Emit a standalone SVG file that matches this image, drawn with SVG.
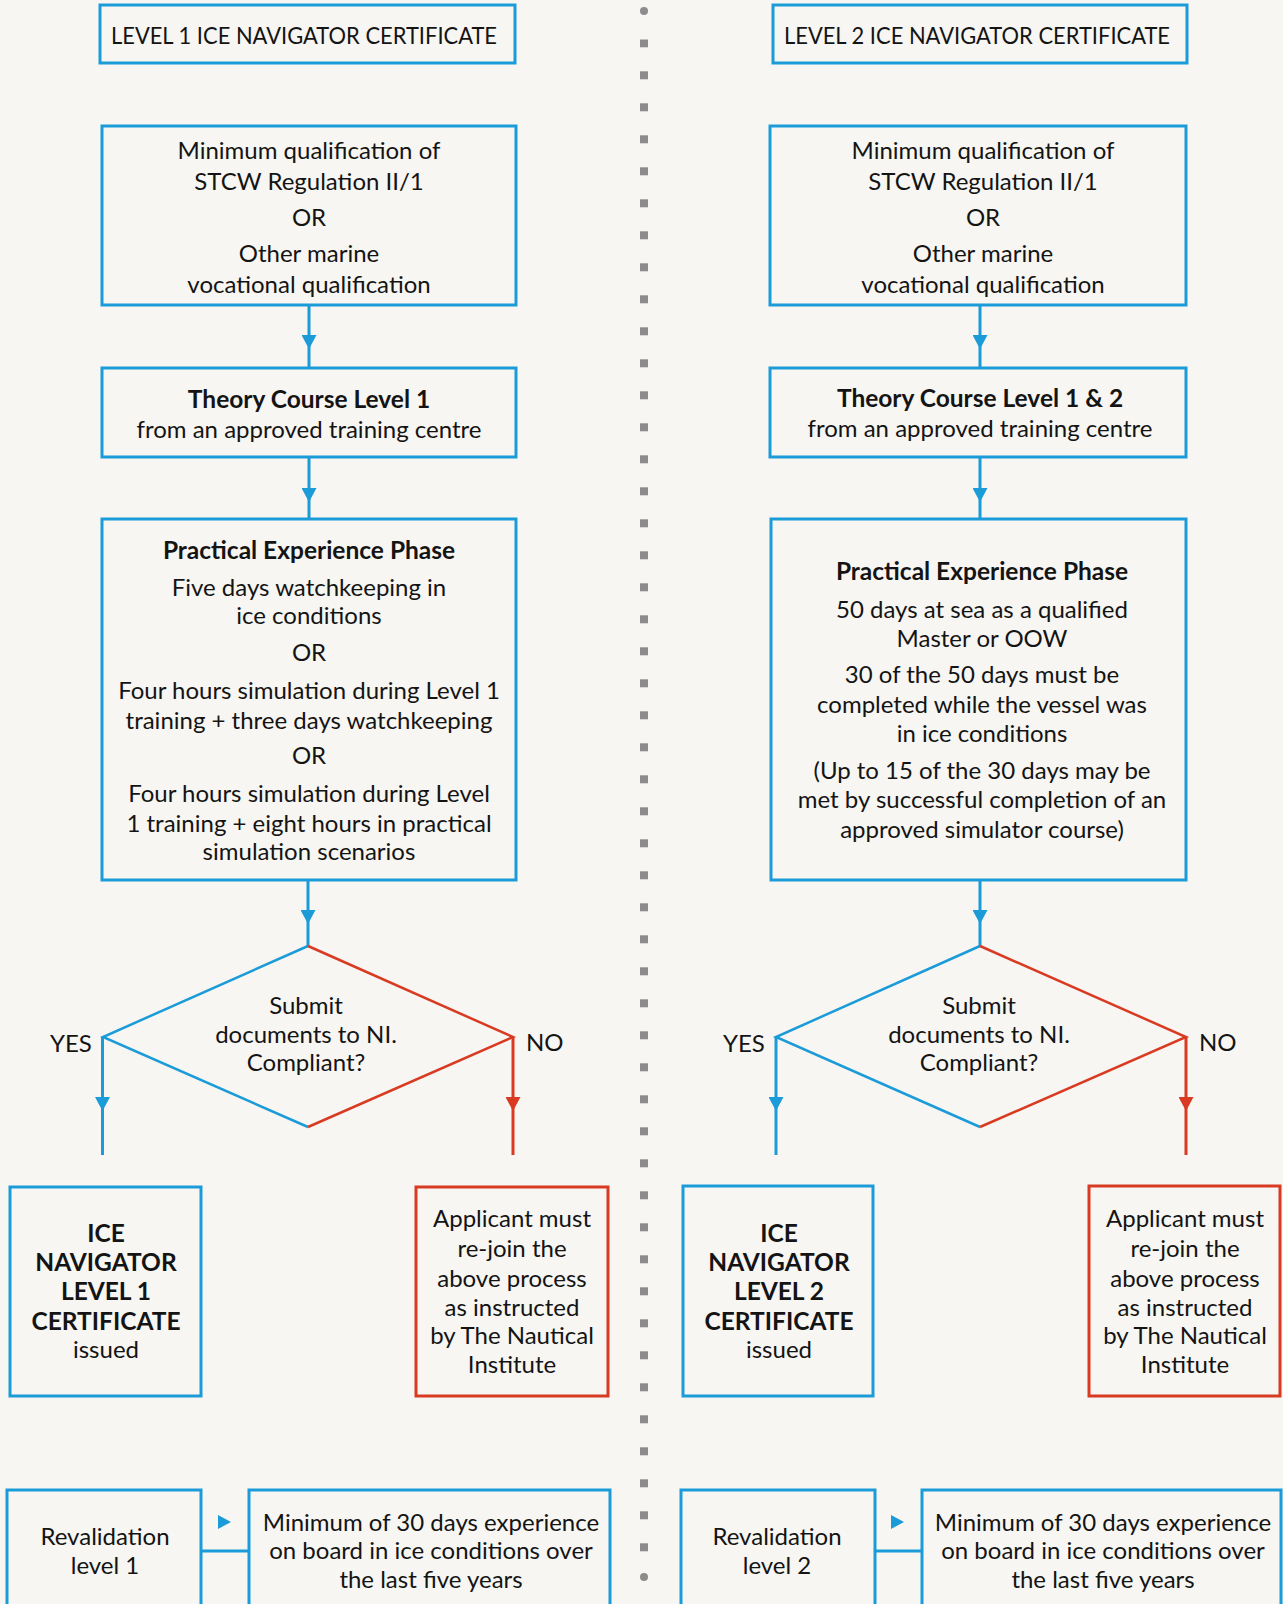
<svg xmlns="http://www.w3.org/2000/svg" width="1283" height="1604" viewBox="0 0 1283 1604">
<style>
.bx{fill:none;stroke:#1b9bd8;stroke-width:3}
.rbx{fill:none;stroke:#d93b22;stroke-width:3}
.t{font-family:Lato,"Liberation Sans",sans-serif;font-size:24px;fill:#141414;text-anchor:middle}
.b{font-family:Lato,"Liberation Sans",sans-serif;font-size:24.5px;font-weight:bold;fill:#141414;text-anchor:middle}
.h{font-family:Lato,"Liberation Sans",sans-serif;font-size:24px;fill:#141414}
.cb{fill:none;stroke:#1b9bd8;stroke-width:3}
.cr{fill:none;stroke:#d93b22;stroke-width:3}
.db{fill:none;stroke:#1b9bd8;stroke-width:2.5}
.dr{fill:none;stroke:#d93b22;stroke-width:2.5}
</style>
<defs>
<marker id="ab" markerUnits="userSpaceOnUse" markerWidth="15" markerHeight="15" refX="14" refY="7.5" orient="auto"><path d="M0,0 L14,7.5 L0,15 Z" fill="#1b9bd8"/></marker>
<marker id="ar" markerUnits="userSpaceOnUse" markerWidth="15" markerHeight="15" refX="14" refY="7.5" orient="auto"><path d="M0,0 L14,7.5 L0,15 Z" fill="#d93b22"/></marker>
<pattern id="dots" x="640" y="39.3" width="8" height="32" patternUnits="userSpaceOnUse"><rect x="0" y="0" width="8" height="8" fill="#8c8c8c"/></pattern>
</defs>
<rect x="0" y="0" width="1283" height="1604" fill="#f7f6f2"/>

<g id="divider">
<circle cx="644" cy="11" r="4" fill="#8c8c8c"/>
<rect x="640" y="39.3" width="8" height="1516" fill="url(#dots)"/>
<circle cx="644" cy="1577" r="4" fill="#8c8c8c"/>
</g>

<g id="connectors">
<path class="cb" d="M309,305 L309,349 L309,368" marker-mid="url(#ab)"/>
<path class="cb" d="M309,457 L309,502 L309,519" marker-mid="url(#ab)"/>
<path class="cb" d="M308,880 L308,924 L308,946" marker-mid="url(#ab)"/>
<path class="cb" d="M102.5,1037 L102.5,1111 L102.5,1155" marker-mid="url(#ab)"/>
<path class="cr" d="M513,1037 L513,1111 L513,1155" marker-mid="url(#ar)"/>
<path class="cb" d="M201,1551 L249,1551"/>
<polygon points="218,1515 218,1529 231,1522" fill="#1b9bd8"/>

<path class="cb" d="M980,305 L980,349 L980,368" marker-mid="url(#ab)"/>
<path class="cb" d="M980,457 L980,502 L980,519" marker-mid="url(#ab)"/>
<path class="cb" d="M980,880 L980,924 L980,946" marker-mid="url(#ab)"/>
<path class="cb" d="M776,1037 L776,1111 L776,1155" marker-mid="url(#ab)"/>
<path class="cr" d="M1186,1037 L1186,1111 L1186,1155" marker-mid="url(#ar)"/>
<path class="cb" d="M875,1551 L922,1551"/>
<polygon points="891,1515 891,1529 904,1522" fill="#1b9bd8"/>
</g>

<!-- LEFT COLUMN -->
<g id="l-title">
<rect class="bx" x="100" y="5" width="415" height="58"/>
<text class="h" x="111" y="44" textLength="386" lengthAdjust="spacingAndGlyphs">LEVEL 1 ICE NAVIGATOR CERTIFICATE</text>
</g>
<g id="l-minqual">
<rect class="bx" x="102" y="126" width="414" height="179"/>
<text class="t" x="309" y="159">Minimum qualification of</text>
<text class="t" x="309" y="190">STCW Regulation II/1</text>
<text class="t" x="309" y="226">OR</text>
<text class="t" x="309" y="262">Other marine</text>
<text class="t" x="309" y="293">vocational qualification</text>
</g>
<g id="l-theory">
<rect class="bx" x="102" y="368" width="414" height="89"/>
<text class="b" x="309" y="408">Theory Course Level 1</text>
<text class="t" x="309" y="438">from an approved training centre</text>
</g>
<g id="l-practical">
<rect class="bx" x="102" y="519" width="414" height="361"/>
<text class="b" x="309" y="559">Practical Experience Phase</text>
<text class="t" x="309" y="596">Five days watchkeeping in</text>
<text class="t" x="309" y="624">ice conditions</text>
<text class="t" x="309" y="661">OR</text>
<text class="t" x="309" y="699">Four hours simulation during Level 1</text>
<text class="t" x="309" y="729">training + three days watchkeeping</text>
<text class="t" x="309" y="764">OR</text>
<text class="t" x="309" y="802">Four hours simulation during Level</text>
<text class="t" x="309" y="832">1 training + eight hours in practical</text>
<text class="t" x="309" y="860">simulation scenarios</text>
</g>
<g id="l-decision">
<polyline class="db" points="308,946 103,1037 308,1127"/>
<polyline class="dr" points="308,946 513,1037 308,1127"/>
<text class="t" x="306" y="1014">Submit</text>
<text class="t" x="306" y="1043">documents to NI.</text>
<text class="t" x="306" y="1071">Compliant?</text>
<text class="h" x="50" y="1052">YES</text>
<text class="h" x="526" y="1051">NO</text>
</g>
<g id="l-issued">
<rect class="bx" x="10" y="1187" width="191" height="209"/>
<text class="b" x="106" y="1242">ICE</text>
<text class="b" x="106" y="1271">NAVIGATOR</text>
<text class="b" x="106" y="1300">LEVEL 1</text>
<text class="b" x="106" y="1330">CERTIFICATE</text>
<text class="t" x="106" y="1358">issued</text>
</g>
<g id="l-rejoin">
<rect class="rbx" x="416" y="1187" width="192" height="209"/>
<text class="t" x="512" y="1227">Applicant must</text>
<text class="t" x="512" y="1257">re-join the</text>
<text class="t" x="512" y="1287">above process</text>
<text class="t" x="512" y="1316">as instructed</text>
<text class="t" x="512" y="1344">by The Nautical</text>
<text class="t" x="512" y="1373">Institute</text>
</g>
<g id="l-reval">
<rect class="bx" x="7" y="1490" width="194" height="130"/>
<text class="t" x="105" y="1545">Revalidation</text>
<text class="t" x="105" y="1574">level 1</text>
</g>
<g id="l-reval-req">
<rect class="bx" x="249" y="1490" width="361" height="130"/>
<text class="t" x="431" y="1531">Minimum of 30 days experience</text>
<text class="t" x="431" y="1559">on board in ice conditions over</text>
<text class="t" x="431" y="1588">the last five years</text>
</g>

<!-- RIGHT COLUMN -->
<g id="r-title">
<rect class="bx" x="773" y="5" width="414" height="58"/>
<text class="h" x="784" y="44" textLength="386" lengthAdjust="spacingAndGlyphs">LEVEL 2 ICE NAVIGATOR CERTIFICATE</text>
</g>
<g id="r-minqual">
<rect class="bx" x="770" y="126" width="416" height="179"/>
<text class="t" x="983" y="159">Minimum qualification of</text>
<text class="t" x="983" y="190">STCW Regulation II/1</text>
<text class="t" x="983" y="226">OR</text>
<text class="t" x="983" y="262">Other marine</text>
<text class="t" x="983" y="293">vocational qualification</text>
</g>
<g id="r-theory">
<rect class="bx" x="770" y="368" width="416" height="89"/>
<text class="b" x="980" y="407">Theory Course Level 1 &amp; 2</text>
<text class="t" x="980" y="437">from an approved training centre</text>
</g>
<g id="r-practical">
<rect class="bx" x="771" y="519" width="415" height="361"/>
<text class="b" x="982" y="580">Practical Experience Phase</text>
<text class="t" x="982" y="618">50 days at sea as a qualified</text>
<text class="t" x="982" y="647">Master or OOW</text>
<text class="t" x="982" y="683">30 of the 50 days must be</text>
<text class="t" x="982" y="713">completed while the vessel was</text>
<text class="t" x="982" y="742">in ice conditions</text>
<text class="t" x="982" y="779">(Up to 15 of the 30 days may be</text>
<text class="t" x="982" y="808">met by successful completion of an</text>
<text class="t" x="982" y="838">approved simulator course)</text>
</g>
<g id="r-decision">
<polyline class="db" points="980,946 776,1037 980,1127"/>
<polyline class="dr" points="980,946 1186,1037 980,1127"/>
<text class="t" x="979" y="1014">Submit</text>
<text class="t" x="979" y="1043">documents to NI.</text>
<text class="t" x="979" y="1071">Compliant?</text>
<text class="h" x="723" y="1052">YES</text>
<text class="h" x="1199" y="1051">NO</text>
</g>
<g id="r-issued">
<rect class="bx" x="683" y="1186" width="190" height="210"/>
<text class="b" x="779" y="1242">ICE</text>
<text class="b" x="779" y="1271">NAVIGATOR</text>
<text class="b" x="779" y="1300">LEVEL 2</text>
<text class="b" x="779" y="1330">CERTIFICATE</text>
<text class="t" x="779" y="1358">issued</text>
</g>
<g id="r-rejoin">
<rect class="rbx" x="1089" y="1186" width="191" height="210"/>
<text class="t" x="1185" y="1227">Applicant must</text>
<text class="t" x="1185" y="1257">re-join the</text>
<text class="t" x="1185" y="1287">above process</text>
<text class="t" x="1185" y="1316">as instructed</text>
<text class="t" x="1185" y="1344">by The Nautical</text>
<text class="t" x="1185" y="1373">Institute</text>
</g>
<g id="r-reval">
<rect class="bx" x="681" y="1490" width="194" height="130"/>
<text class="t" x="777" y="1545">Revalidation</text>
<text class="t" x="777" y="1574">level 2</text>
</g>
<g id="r-reval-req">
<rect class="bx" x="922" y="1490" width="359" height="130"/>
<text class="t" x="1103" y="1531">Minimum of 30 days experience</text>
<text class="t" x="1103" y="1559">on board in ice conditions over</text>
<text class="t" x="1103" y="1588">the last five years</text>
</g>
</svg>
